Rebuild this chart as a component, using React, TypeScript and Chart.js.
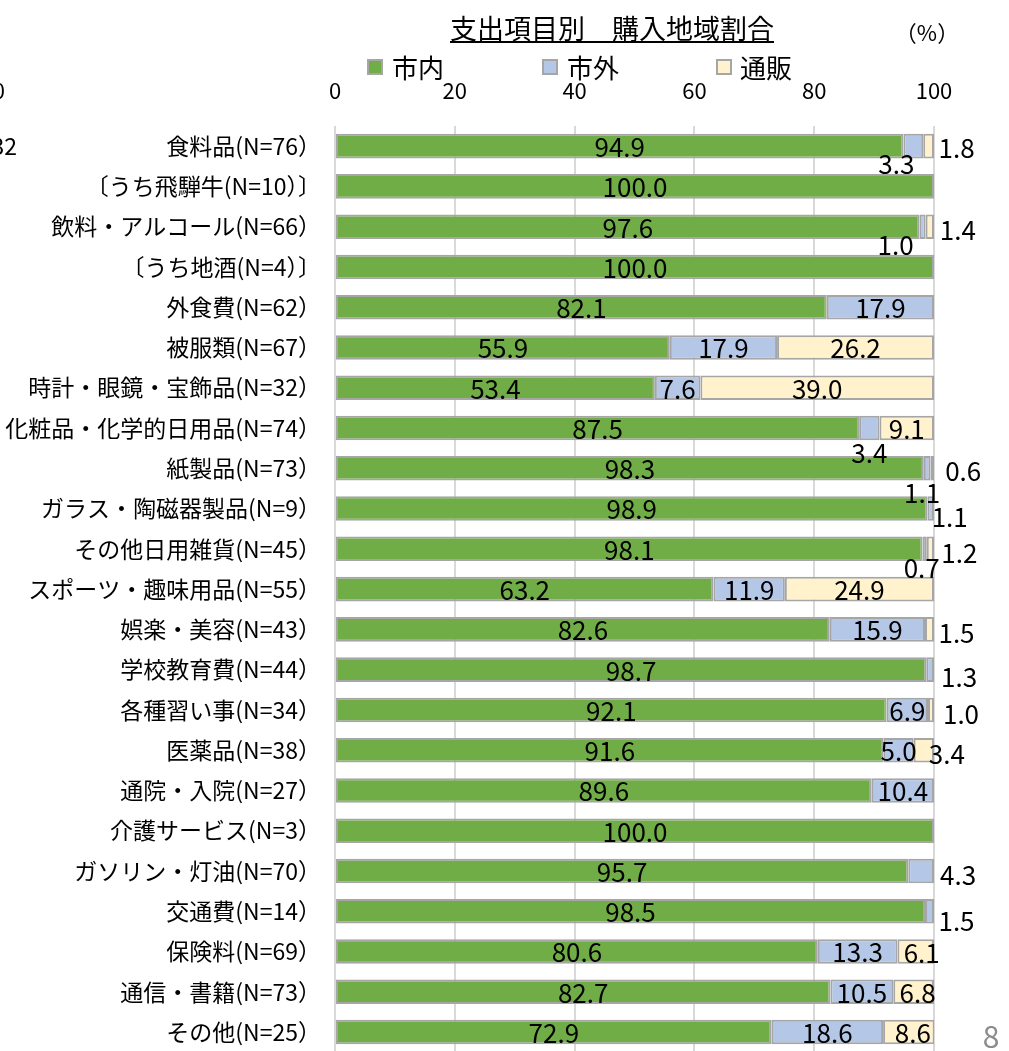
import React, { useEffect, useRef } from 'react';
import { Chart, registerables } from 'chart.js';

Chart.register(...registerables);

const TITLE = '支出項目別　購入地域割合';
const UNIT_LABEL = '（%）';
const PAGE_NUMBER = '8';
const CUT_TEXT_TOP = '0';
const CUT_TEXT_ROW = '32';

const SERIES_NAMES = ['市内', '市外', '通販'];

const CATEGORIES = [
  '食料品(N=76）',
  '〔うち飛騨牛(N=10）〕',
  '飲料・アルコール(N=66）',
  '〔うち地酒(N=4）〕',
  '外食費(N=62）',
  '被服類(N=67）',
  '時計・眼鏡・宝飾品(N=32）',
  '化粧品・化学的日用品(N=74）',
  '紙製品(N=73）',
  'ガラス・陶磁器製品(N=9）',
  'その他日用雑貨(N=45）',
  'スポーツ・趣味用品(N=55）',
  '娯楽・美容(N=43）',
  '学校教育費(N=44）',
  '各種習い事(N=34）',
  '医薬品(N=38）',
  '通院・入院(N=27）',
  '介護サービス(N=3）',
  'ガソリン・灯油(N=70）',
  '交通費(N=14）',
  '保険料(N=69）',
  '通信・書籍(N=73）',
  'その他(N=25）',
];

const CITY = [94.9, 100.0, 97.6, 100.0, 82.1, 55.9, 53.4, 87.5, 98.3, 98.9, 98.1, 63.2, 82.6, 98.7, 92.1, 91.6, 89.6, 100.0, 95.7, 98.5, 80.6, 82.7, 72.9];
const OUTSIDE = [3.3, 0, 1.0, 0, 17.9, 17.9, 7.6, 3.4, 1.1, 1.1, 0.7, 11.9, 15.9, 1.3, 6.9, 5.0, 10.4, 0, 4.3, 1.5, 13.3, 10.5, 18.6];
const MAIL = [1.8, 0, 1.4, 0, 0, 26.2, 39.0, 9.1, 0.6, 0, 1.2, 24.9, 1.5, 0, 1.0, 3.4, 0, 0, 0, 0, 6.1, 6.8, 8.6];

const X_MIN = 0;
const X_MAX = 100;
const X_STEP = 20;

// styling / placement (kept apart from the data)
const COLORS = ['#70AD47', '#B4C7E7', '#FFF2CC'];
const BORDER = '#A6A6A6';
const FONT = '"Noto Sans CJK JP", "Noto Sans", sans-serif';
// label nudges [dx, dy] keyed "dataset-row"
const LABEL_NUDGE: Record<string, [number, number]> = {
  '1-0': [-17, 17], '2-0': [28, 1],
  '1-2': [-27, 17], '2-2': [28, 2],
  '1-7': [0, 24],
  '1-8': [-5, 24], '2-8': [31, 2],
  '1-9': [19, 8],
  '1-10': [-3, 18], '2-10': [29, 3],
  '2-12': [27, 3],
  '1-13': [29, 6],
  '2-14': [30, 3],
  '2-15': [23, 3],
  '1-18': [37, 3],
  '1-19': [27, 9],
  '2-20': [6, 1],
  '2-21': [4, 0],
  '2-22': [4, 0],
};
const LEGEND_POS = [
  { box: 367, text: 392 },
  { box: 542, text: 567 },
  { box: 716, text: 740 },
];

const dataLabelPlugin = {
  id: 'dataLabels',
  afterDatasetsDraw(chart: any) {
    const ctx = chart.ctx;
    ctx.save();
    ctx.font = `26px ${FONT}`;
    ctx.fillStyle = '#000';
    ctx.textAlign = 'center';
    ctx.textBaseline = 'middle';
    chart.data.datasets.forEach((ds: any, d: number) => {
      const meta = chart.getDatasetMeta(d);
      meta.data.forEach((bar: any, i: number) => {
        const v = ds.data[i];
        if (v === null || v === undefined || v === 0) return;
        const nudge = LABEL_NUDGE[`${d}-${i}`] || [0, 0];
        const cx = (bar.x + bar.base) / 2 + nudge[0];
        const cy = bar.y + 1 + nudge[1];
        ctx.fillText(Number(v).toFixed(1), cx, cy);
      });
    });
    ctx.restore();
  },
};

const overlayPlugin = {
  id: 'overlay',
  afterDraw(chart: any) {
    const ctx = chart.ctx;
    ctx.save();
    ctx.fillStyle = '#000';
    ctx.textBaseline = 'middle';
    // title with underline
    ctx.font = `27px ${FONT}`;
    ctx.textAlign = 'left';
    const tw = ctx.measureText(TITLE).width;
    const tx = 612 - tw / 2;
    ctx.fillText(TITLE, tx, 29);
    ctx.fillRect(tx, 41, tw, 2);
    // unit
    ctx.font = `22px ${FONT}`;
    ctx.textAlign = 'center';
    ctx.fillText(UNIT_LABEL, 927, 33);
    // legend
    ctx.font = `26px ${FONT}`;
    ctx.textAlign = 'left';
    SERIES_NAMES.forEach((name, k) => {
      const p = LEGEND_POS[k];
      ctx.fillStyle = COLORS[k];
      ctx.fillRect(p.box, 59, 16, 16);
      ctx.strokeStyle = BORDER;
      ctx.lineWidth = 2;
      ctx.strokeRect(p.box + 1, 60, 14, 14);
      ctx.fillStyle = '#000';
      ctx.fillText(name, p.text, 68);
    });
    // cut-off fragments at the left edge
    ctx.font = `22px ${FONT}`;
    ctx.textAlign = 'right';
    ctx.fillText(CUT_TEXT_TOP, 5, 91);
    ctx.font = `23px ${FONT}`;
    ctx.fillText(CUT_TEXT_ROW, 17, 146);
    // page number
    ctx.font = `30px ${FONT}`;
    ctx.fillStyle = '#8C8C8C';
    ctx.textAlign = 'center';
    ctx.fillText(PAGE_NUMBER, 991, 1037);
    ctx.restore();
  },
};

export default function App() {
  const ref = useRef<HTMLCanvasElement | null>(null);

  useEffect(() => {
    if (!ref.current) return;
    const series = [CITY, OUTSIDE, MAIL];
    const chart = new Chart(ref.current, {
      type: 'bar',
      data: {
        labels: CATEGORIES,
        datasets: series.map((vals, k) => ({
          label: SERIES_NAMES[k],
          data: vals.map((v) => (v === 0 ? null : v)),
          backgroundColor: COLORS[k],
          borderColor: BORDER,
          borderWidth: 2,
          borderSkipped: false,
          barPercentage: 0.61,
          categoryPercentage: 1,
        })),
      },
      options: {
        indexAxis: 'y',
        responsive: false,
        animation: false,
        devicePixelRatio: 1,
        layout: { padding: { left: 0, right: 75, top: 0, bottom: 7 } },
        plugins: {
          legend: { display: false },
          title: { display: false },
          tooltip: { enabled: false },
        },
        scales: {
          x: {
            type: 'linear',
            position: 'top',
            stacked: true,
            min: X_MIN,
            max: X_MAX,
            ticks: {
              stepSize: X_STEP,
              font: { family: FONT, size: 22 },
              color: '#000',
              padding: 22,
            },
            grid: { color: '#D9D9D9', lineWidth: 2, drawTicks: false },
            border: { display: false },
            afterFit: (scale: any) => {
              scale.height = 126;
            },
          },
          y: {
            stacked: true,
            ticks: {
              font: { family: FONT, size: 23 },
              color: '#000',
              padding: 14,
              autoSkip: false,
            },
            grid: { display: false, drawTicks: false },
            border: { display: false },
            afterFit: (scale: any) => {
              scale.width = 335;
            },
          },
        },
      },
      plugins: [dataLabelPlugin, overlayPlugin],
    });
    return () => chart.destroy();
  }, []);

  return (
    <div style={{ position: 'absolute', left: 0, top: 0, width: 1009, height: 1080, background: '#fff' }}>
      <canvas ref={ref} width={1009} height={1080} style={{ display: 'block' }} />
    </div>
  );
}
